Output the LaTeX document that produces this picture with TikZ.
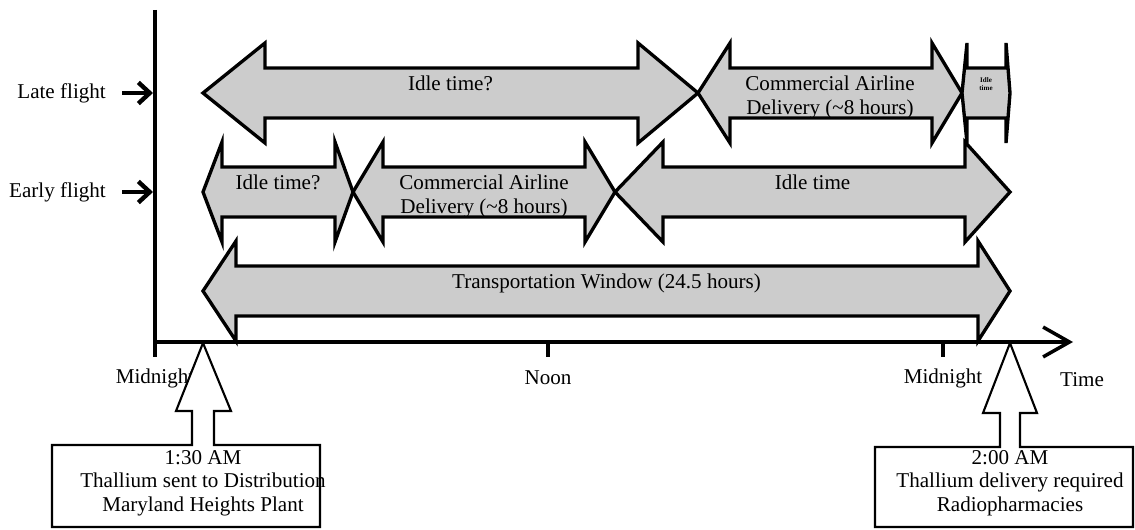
\documentclass[tikz,border=0pt]{standalone}
\usepackage{fontspec}
\setmainfont{Liberation Serif}
\usetikzlibrary{arrows.meta}

\tikzset{
  arrowbox/.style={draw=black, line width=1.9pt, fill=black!20, line join=miter},
  callout/.style={draw=black, line width=1.2pt, fill=white, line join=miter},
  axisline/.style={line width=1.8pt},
  flightarrow/.style={line width=2.5pt, -{Straight Barb[length=6.5pt, width=12pt, line width=2.5pt]}}
}

\begin{document}
\begin{tikzpicture}[x=0.02cm, y=-0.02cm, font=\fontsize{12}{13.5}\selectfont]
  \useasboundingbox (0,0) rectangle (1135,530);

  % Time line and vertical axis
  \draw[axisline] (155,10) -- (155,357);
  \coordinate (origin) at (155,342);
  \coordinate (timeend) at (1073,342);
  \draw[axisline, -{Straight Barb[length=15pt, width=17pt, line width=2pt]}] (origin) -- (timeend);
  \foreach \x in {548, 943} {
    \draw[axisline] (\x,342) -- (\x,357);
  }
  \node (mid1) at (155,378) {Midnight};
  \node (noon) at (548,378) {Noon};
  \node (mid2) at (943,378) {Midnight};
  \node (time) at (1082,380) {Time};

  % Flight labels
  \node[anchor=east] (late) at (112,93) {Late flight};
  \node[anchor=east] (early) at (112,192) {Early flight};
  \coordinate (lateax) at (153,93);
  \coordinate (earlyax) at (153,192);
  \draw[flightarrow] (late.east) ++(10,0) -- (lateax);
  \draw[flightarrow] (early.east) ++(10,0) -- (earlyax);

  % Double arrows: left x / right x / row y / left head / right head / name / text
  \foreach \xa/\xb/\yc/\ha/\hb/\n/\txt in {
      203/698/93/62/60/lateidle/{Idle time?},
      698/962/93/32/30/lateair/{Commercial Airline\\Delivery (\textasciitilde8 hours)},
      203/353/192/19/18/earlyidle/{Idle time?},
      353/615/192/30/30/earlyair/{Commercial Airline\\Delivery (\textasciitilde8 hours)},
      615/1010/192/48/45/earlywait/{Idle time},
      203/1010/291/33/32/window/{Transportation Window (24.5 hours)}} {
    \draw[arrowbox] (\xa,\yc) -- (\xa+\ha,\yc-50) -- (\xa+\ha,\yc-25)
      -- (\xb-\hb,\yc-25) -- (\xb-\hb,\yc-50) -- (\xb,\yc)
      -- (\xb-\hb,\yc+50) -- (\xb-\hb,\yc+25) -- (\xa+\ha,\yc+25)
      -- (\xa+\ha,\yc+50) -- cycle;
    \node[anchor=north, align=center, inner sep=0pt] (\n) at ({(\xa+\xb)/2},\yc-17) {\txt};
  }

  % Small last arrow of the late flight
  \draw[arrowbox] (962,93) -- (967,43) -- (967,68) -- (1006,68) -- (1006,43)
    -- (1010,93) -- (1006,143) -- (1006,118) -- (967,118) -- (967,143) -- cycle;
  \node[align=center, inner sep=0pt, font=\fontsize{4}{4.5}\selectfont\bfseries] (lateend) at (986,84) {Idle\\time};

  % Callouts
  \draw[callout] (52,445) -- (192,445) -- (192,411) -- (176,411) -- (203,343)
    -- (231,411) -- (214,411) -- (214,445) -- (320,445) -- (320,527) -- (52,527) -- cycle;
  \draw[callout] (875,447) -- (1000,447) -- (1000,413) -- (983,413) -- (1010,343)
    -- (1037,413) -- (1020,413) -- (1020,447) -- (1133,447) -- (1133,527) -- (875,527) -- cycle;
  \node[align=center] (sent) at (203,483) {1:30 AM\\Thallium sent to Distribution\\Maryland Heights Plant};
  \node[align=center] (needed) at (1010,483) {2:00 AM\\Thallium delivery required\\Radiopharmacies};
\end{tikzpicture}
\end{document}
